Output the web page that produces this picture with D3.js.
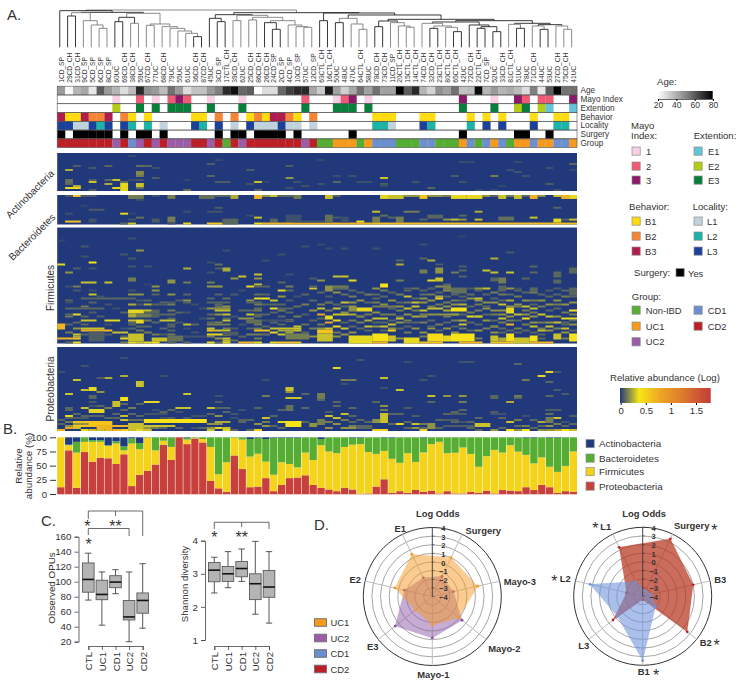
<!DOCTYPE html>
<html><head><meta charset="utf-8">
<script src="https://cdn.jsdelivr.net/npm/d3@7"></script>
<style>html,body{margin:0;padding:0;background:#fff}svg{display:block}text{font-family:"Liberation Sans",Arial,sans-serif;fill:#333}</style>
</head><body><svg id="c" width="748" height="688"></svg>
<script>
// ---------- DATA ----------
const samples=["1CD_SP","29CD_CH","31CD_CH","9CD_SP","5CD_SP","6CD_SP","8CD_SP","60UC","69CD_CH","38CD_CH","59UC","67CD_CH","77UC","68CD_CH","79UC","55UC","61UC","36CD_CH","87CD_CH","45UC","3CD_SP","17CTL_CH","39CD_CH","62UC","25CD_CH","86CD_CH","26CD_CH","24CD_SP","2CD_SP","4CD_SP","10CD_SP","57UC","12CD_SP","63CTL_CH","16CTL_CH","50UC","48UC","47UC","64CTL_CH","58UC","78CD_CH","73CD_CH","11CD_SP","20CTL_CH","15CTL_CH","14CTL_CH","74CD_CH","32CD_CH","23CTL_CH","80CTL_CH","65CTL_CH","42UC","72CD_CH","22CTL_CH","7CD_SP","52UC","33CD_CH","81CTL_CH","51UC","78UC","71CD_CH","44UC","53UC","27CD_CH","75CD_CH","41UC"];
const age=[50,22,42,46,27,62,50,42,30,40,72,52,50,40,58,50,30,38,38,50,55,72,77,60,62,20,30,30,60,68,72,72,46,36,75,48,34,46,58,48,58,48,48,80,62,72,42,33,52,48,58,38,40,78,42,50,42,45,40,30,55,27,62,80,58,58];
const groupCodes="dddddddbdcbdbdbbbddbdNdbdddddddbdNNaaaNacccNNNccNNNacNcacNaacaacca".split("");
const mayoCells=[[7,"1"],[10,"2"],[12,"1"],[14,"2"],[15,"3"],[16,"2"],[19,"1"],[23,"1"],[31,"2"],[35,"1"],[36,"2"],[37,"3"],[39,"1"],[51,"3"],[55,"1"],[58,"3"],[59,"2"],[61,"2"],[62,"2"],[65,"3"]];
const extentCells=[[7,"E2"],[10,"E3"],[12,"E3"],[14,"E3"],[15,"E3"],[16,"E3"],[19,"E3"],[23,"E3"],[31,"E3"],[35,"E3"],[36,"E3"],[37,"E3"],[39,"E3"],[51,"E3"],[55,"E3"],[58,"E2"],[59,"E3"],[61,"E2"],[62,"E1"],[65,"E1"]];
const behaviorCells=[[0,"B3"],[1,"B1"],[2,"B1"],[3,"B3"],[4,"B2"],[5,"B2"],[6,"B3"],[8,"B2"],[9,"B1"],[11,"B1"],[17,"B1"],[18,"B1"],[20,"B2"],[22,"B2"],[24,"B1"],[25,"B2"],[26,"B1"],[27,"B3"],[28,"B3"],[29,"B2"],[30,"B1"],[32,"B2"],[40,"B1"],[41,"B1"],[42,"B1"],[46,"B1"],[47,"B1"],[52,"B1"],[54,"B1"],[56,"B1"],[60,"B1"],[63,"B1"],[64,"B1"]];
const localityCells=[[0,"L3"],[1,"L3"],[2,"L1"],[3,"L1"],[4,"L3"],[5,"L2"],[6,"L3"],[8,"L3"],[9,"L2"],[11,"L2"],[13,"L1"],[17,"L3"],[18,"L2"],[20,"L3"],[22,"L1"],[24,"L3"],[25,"L1"],[26,"L1"],[27,"L1"],[28,"L3"],[29,"L1"],[30,"L1"],[32,"L1"],[40,"L2"],[41,"L2"],[42,"L1"],[46,"L3"],[47,"L2"],[52,"L2"],[54,"L3"],[56,"L3"],[60,"L3"],[63,"L2"],[64,"L2"]];
const surgeryCols=[0,2,3,4,5,6,8,10,11,13,20,22,23,25,26,27,28,30,37,51,58,59,62];
// dendrogram: [mergeHeight, left, right, greyFlag]; leaves are sample indices
const tree=[112,
 [110,0,[105,[104,[94,1,2],[80,3,[67,4,[57,5,6,1],1],1],1],
   [102,[90,[77,7,8],[72,9,10,1]],[70,[66,11,12,1],[62,13,[57,14,[49,15,[42,16,[32,17,18]  ,1],1],1],1],1],1]]],
 [104,[98,[87,19,[77,20,21]],[96,[80,22,23,1],[90,[82,24,25,1],[80,[74,26,[54,27,28]],[67,29,[62,30,[60,31,32,1],1],1],1],1],1]],
   [103,[80,33,34],[97,[87,[74,35,36],[70,37,[54,38,39,1],1],1],
     [84,[79,[62,40,41],[74,42,[64,43,[60,44,45,1],1],1]],
       [80,[76,[72,46,[64,[57,47,48],[60,49,[47,50,51],1],1],1],[67,52,[62,[57,53,54],[47,55,56]]]],
           [72,[69,57,[57,58,59],1],[68,[64,60,[54,61,62],1],[64,63,[54,64,65,1],1]]]]]]]],1];
// heat cells: [firstRow,lastRow,firstCol,lastCol,log abundance]
const actinoCells=[[8,8,1,1,.25],[6,6,2,2,.08],[7,7,4,4,.07],[6,6,6,6,.1],[6,6,10,10,.12],[1,1,9,9,.04],[6,6,11,11,.1],[7,7,12,12,.05],[5,5,19,19,.08],[3,3,20,20,.04],[8,8,24,24,.08],[6,6,29,29,.08],[9,10,10,10,.18],[11,11,10,10,.14],[11,11,19,19,.1],[12,12,12,12,.08],[13,14,1,1,.12],[15,15,1,1,.1],[13,13,4,4,.08],[14,14,4,4,.3],[13,13,6,6,.1],[15,15,6,6,.25],[13,13,7,7,.3],[14,14,8,8,.12],[15,17,8,8,.35],[18,18,8,8,.35],[13,13,9,9,.04],[13,13,10,10,.06],[15,16,10,10,.3],[16,16,2,2,.25],[17,17,1,2,.35],[18,18,4,4,.08],[17,17,7,7,.35],[17,17,10,10,.12],[18,18,16,16,.12],[13,13,16,16,.03],[14,14,20,21,.08],[15,15,24,24,.06],[14,14,25,25,.3],[14,14,26,26,.03],[12,12,29,29,.2],[14,14,30,30,.06],[18,18,25,25,.1],[17,17,29,29,.05],[3,3,33,33,.04],[11,11,35,35,.05],[14,14,35,35,.1],[11,11,37,37,.05],[12,12,41,41,.3],[15,15,41,41,.08],[16,16,41,41,.04],[15,15,33,33,.05],[16,16,31,31,.06],[14,14,38,39,.05],[14,14,45,45,.06],[17,17,47,47,.1],[11,11,50,50,.08],[14,14,51,51,.06],[4,4,51,52,.04],[11,11,55,55,.15],[8,8,57,57,.05],[9,9,58,58,.06],[11,11,59,59,.05],[4,4,58,58,.04],[7,7,62,62,.05],[15,15,62,62,.08],[5,5,65,65,.1],[8,8,65,65,.04],[18,18,63,63,.06],[18,18,53,53,.04],[18,18,55,55,.04],[16,16,56,56,.03]];
const bacterCells=[[0,0,1,1,.08],[0,0,2,2,.6],[0,0,3,4,.08],[0,1,9,10,.15],[0,0,12,12,.06],[0,1,14,14,.15],[0,1,18,19,.12],[0,0,20,21,.1],[0,1,22,22,.25],[0,1,25,25,.7],[0,0,26,26,.2],[0,0,27,27,.3],[0,0,28,29,.1],[0,1,30,30,.15],[2,2,10,10,.05],[5,5,3,3,.03],[7,7,4,5,.08],[6,6,20,20,.08],[8,8,19,20,.06],[8,8,16,16,.05],[9,9,8,8,.35],[9,9,9,9,.03],[11,11,10,10,.12],[12,12,9,9,.06],[11,13,14,14,.15],[12,13,12,12,.08],[12,13,4,4,.06],[9,9,1,1,.05],[13,13,1,2,.6],[14,14,8,8,.1],[14,14,9,9,.3],[14,14,14,14,.05],[14,14,16,16,.35],[14,14,19,20,.6],[12,14,21,22,.1],[10,10,24,24,.05],[11,11,25,25,.3],[14,14,25,25,.35],[12,13,27,27,.1],[10,13,29,30,.05],[14,14,26,39,.7],
[0,1,34,34,.3],[0,0,35,35,.1],[0,1,41,41,.35],[0,1,42,43,.3],[0,0,44,45,.2],[0,1,46,46,.6],[0,0,47,48,.2],[0,0,49,49,.15],[0,1,50,51,.35],[0,1,52,53,.35],[0,0,54,54,.2],[0,0,55,55,.1],[0,1,56,56,.3],[0,0,57,57,.15],[0,1,58,58,.3],[0,0,59,59,.1],[0,1,60,60,.7],[0,0,61,61,.2],[0,0,63,63,.3],[0,1,64,64,.7],[0,1,65,65,.35],[10,13,34,34,.12],[11,11,35,35,.08],[11,13,36,36,.05],[13,13,38,38,.4],[8,8,40,40,.3],[11,13,40,40,.15],[10,10,41,41,.12],[11,11,42,42,.1],[11,13,43,43,.15],[8,8,44,45,.15],[12,12,46,46,.1],[10,11,47,48,.1],[12,12,49,49,.2],[12,12,50,50,.3],[10,10,51,51,.1],[12,12,51,51,.2],[8,8,53,53,.25],[12,12,53,53,.3],[11,12,56,57,.12],[11,11,60,60,.3],[6,6,63,63,.1],[12,13,63,63,.35],[12,12,65,65,.3],[12,12,64,64,.1],[13,13,30,33,.06],[14,14,40,65,.65]];
const firmCoarse=[[18,18,0,0,.35],[17,17,4,4,.4],[14,14,3,3,.06],[13,13,8,8,.06],[15,15,9,9,.07],[11,11,10,10,.2],[5,5,9,9,.05],[9,9,3,3,.07],[6,6,0,0,.03],[20,20,2,2,.08],[19,19,11,11,.05],[19,19,9,9,.06],[20,20,16,16,.25],[17,17,19,19,.05],[18,18,20,20,.12],[20,20,20,20,.08],[20,21,21,21,.25],[11,11,21,21,.05],[22,22,19,19,.06],[22,22,1,1,.2],[20,20,4,4,.06],[25,26,9,9,.15],[27,27,3,4,.3],[27,27,6,6,.3],[26,27,14,14,.2],[27,27,16,16,.15],[27,27,19,19,.15],[25,25,22,22,.2],[24,24,23,23,.3],[23,23,25,25,.3],[25,25,25,25,.2],[29,29,24,24,.35],[29,29,26,26,.1],[28,28,25,25,.3],[27,27,28,28,.1],[23,23,29,29,.05],[29,29,12,12,.2],[29,29,2,2,.15],[28,28,11,11,.03],[29,29,20,20,.1],[16,16,26,26,.05],[13,13,28,28,.05],
[29,29,1,1,.05],[29,29,19,20,.2],[29,29,25,25,.1],[29,29,29,29,.15],[31,31,2,2,.07],[31,31,4,4,.05],[31,31,9,9,.06],[31,31,12,12,.2],[31,31,28,28,.35],[33,33,4,4,.3],[33,33,9,10,.2],[33,33,16,16,.1],[33,33,25,25,.12],[35,35,3,8,.1],[35,35,26,26,.4],[35,35,25,25,.35],[37,37,1,1,.05],[37,37,14,14,.08],[37,37,16,16,.1],[37,37,19,21,.1],[37,37,24,25,.1],[38,38,9,9,.25],[38,38,10,10,.07],[38,38,11,11,.25],[38,38,12,12,.1],[38,38,13,13,.08],[38,38,14,14,.15],[38,38,20,20,.1],[38,38,27,28,.1],[38,38,25,25,.15],[40,40,1,5,.1],[40,40,19,21,.2],[40,40,25,25,.12],[40,40,27,27,.35],[40,40,28,29,.1],[41,42,9,10,.35],[41,41,11,11,.3],[41,42,12,12,.1],[41,41,20,21,.3],[41,41,23,23,.1],[43,43,1,1,.1],[43,43,2,2,.35],[43,44,9,9,.25],[43,44,10,11,.15],[43,43,12,12,.1],[43,43,14,14,.1],[43,43,19,19,.1],[43,43,21,21,.3],[43,43,24,24,.3],[43,44,25,25,.1],[45,45,14,14,.1],[45,45,23,24,.2],[46,46,3,4,.3],[46,46,6,7,.35],[46,46,9,9,.3],[46,47,10,10,.35],[46,46,11,11,.15],[46,46,13,14,.3],[46,46,21,21,.3],[46,47,24,25,.12],[46,46,26,29,.06],[48,50,0,0,.7],[48,48,3,3,.1],[48,48,9,9,.1],[48,48,14,14,.1],[48,48,16,16,.3],[48,48,17,17,.1],[48,48,19,21,.15],[50,50,2,2,.2],[50,50,3,5,.3],[50,50,8,8,.05],[50,50,19,19,.3],[50,50,21,21,.15],[50,50,25,25,.15],[50,50,27,30,.3],[51,51,3,6,.7],[51,51,19,19,.6],[51,51,20,21,.3],[51,51,25,26,.6],[51,51,28,29,.25],[53,56,9,10,.3],[53,53,12,12,.15],[53,53,14,14,.15],[53,53,19,20,.35],[53,53,26,26,.1],[55,55,0,1,.7],[55,55,2,2,.6],[55,55,8,8,.35],[55,56,12,13,.3],[55,55,14,15,.1],[55,55,21,21,.3],[57,57,1,1,.1],[57,57,2,2,.35],[57,57,8,8,.15],[57,57,9,9,.35],[57,57,10,10,.3],[57,57,11,11,.35],[57,57,12,12,.4],[57,57,14,14,.1],[57,57,16,16,.1],[57,57,19,19,.35],[57,57,20,20,.1],[57,57,21,21,.35],[57,57,23,24,.7],[57,57,25,25,.35],[57,57,27,27,.35],[57,57,28,30,.6],[54,56,14,15,.12],[52,53,21,22,.08],[52,56,4,5,.08],[54,54,16,18,.06],
[9,9,31,31,.05],[8,8,33,33,.04],[10,10,34,34,.04],[10,10,36,36,.05],[10,10,40,40,.05],[8,8,46,46,.05],[4,4,51,51,.03],[12,12,57,57,.07],[15,15,55,55,.25],[15,15,46,46,.1],[16,16,47,47,.25],[16,16,43,43,.1],[18,18,43,43,.25],[19,19,60,60,.1],[19,19,51,51,.08],[18,18,48,48,.07],[21,21,54,54,.3],[20,22,48,48,.2],[22,22,55,55,.3],[21,22,46,46,.15],[22,22,57,57,.3],[24,24,35,35,.3],[24,24,36,36,.3],[26,26,33,33,.2],[25,25,32,32,.08],[26,26,37,37,.35],[28,29,41,41,.4],[26,26,43,43,.15],[26,26,47,47,.35],[25,26,48,48,.3],[22,22,50,50,.15],[21,21,51,51,.1],[24,24,51,51,.1],[25,26,55,55,.1],[25,27,56,56,.15],[22,24,63,63,.1],[20,22,65,65,.1],[26,27,63,63,.1],[25,25,59,59,.1],[22,22,60,60,.1],[29,30,35,36,.15],[28,30,49,49,.1],
[29,29,32,32,.1],[29,31,34,34,.2],[30,30,35,36,.1],[30,30,44,44,.08],[30,30,47,47,.08],[29,30,49,49,.15],[30,32,50,51,.12],[30,30,53,53,.2],[29,31,56,56,.1],[30,30,58,58,.06],[30,31,60,60,.1],[30,30,63,63,.08],[30,33,65,65,.1],[35,35,46,46,.2],[35,35,48,48,.5],[35,35,53,53,.3],[35,35,40,40,.1],[37,37,36,36,.3],[37,37,34,34,.1],[39,41,37,37,.2],[40,41,38,39,.35],[39,39,40,42,.15],[41,41,43,43,.15],[40,40,44,44,.3],[39,39,45,45,.3],[40,40,47,48,.3],[41,41,49,49,.25],[40,41,50,51,.4],[39,39,54,54,.1],[41,41,55,56,.2],[40,42,57,57,.35],[39,39,58,58,.15],[41,41,59,59,.15],[40,40,60,60,.3],[40,40,63,63,.1],[41,41,65,65,.4],[43,43,33,33,.8],[44,45,34,34,.35],[43,43,35,36,.3],[44,44,38,38,.15],[45,45,40,41,.3],[45,45,43,43,.3],[44,44,46,46,.2],[43,43,49,50,.2],[44,44,53,53,.3],[45,45,56,56,.3],[45,45,59,59,.45],[45,45,64,65,.35],[48,48,33,33,.15],[47,47,34,34,.8],[47,47,44,44,.1],[49,49,39,39,.3],[48,48,42,42,.3],[49,49,47,47,.1],[48,48,51,51,.3],[49,49,55,55,.15],[48,48,57,57,.7],[47,47,60,60,.2],[49,49,62,62,.3],[47,47,64,64,.1],[49,49,30,30,.3],[51,52,33,34,.6],[51,51,30,30,.3],[51,51,42,42,.5],[52,52,56,56,.1],[51,51,61,61,.3],[53,55,29,31,.15],[53,56,33,34,.3],[54,57,37,39,.35],[53,56,40,41,.4],[54,56,42,42,.3],[55,55,43,43,.2],[55,57,44,45,.35],[54,54,46,46,.15],[53,56,47,48,.45],[54,56,49,49,.35],[53,56,50,52,.4],[55,55,53,53,.15],[54,56,55,55,.3],[55,56,56,56,.25],[53,56,57,57,.4],[55,57,58,59,.3],[54,56,60,60,.4],[55,55,61,61,.1],[53,55,63,63,.3],[55,55,64,64,.15],[53,56,65,65,.4],[57,57,40,41,.7],[57,57,46,48,.6],[57,57,51,53,.7],[57,57,55,57,.6],[57,57,60,62,.7]];
// single column readings: [col, row, value, row, value, ...]
const firmSparse=[[1,36,.1,44,.15,48,.1,52,.15],[2,47,.1,53,.3,54,.25],[3,39,.15,44,.1,53,.1],[4,37,.1,42,.08,54,.1],[5,34,.06,44,.08],[6,38,.06,48,.06,53,.08],[7,40,.05,52,.3],[8,42,.1,52,.3,54,.1],[9,35,.1,47,.1,50,.1],[10,36,.07,49,.1,51,.15],[11,36,.1,42,.1,49,.1,52,.15],[12,33,.1,44,.1,47,.1],[13,37,.1,43,.1,50,.1,53,.08],[14,33,.2,41,.15,43,.1,49,.1,51,.1],[15,36,.08,42,.1,47,.06],[16,36,.2,42,.06,50,.05],[17,38,.05,52,.06],[18,40,.06,45,.05],[19,35,.1,45,.12,47,.1,54,.15],[20,33,.1,39,.12,43,.2,47,.15,55,.2],[21,35,.12,39,.2,45,.1,53,.3,56,.3],[22,33,.08,44,.06,50,.08,56,.12],[23,31,.05,48,.06,54,.1],[24,36,.2,41,.1,50,.1,53,.15],[25,41,.15,47,.1,48,.15,53,.15,55,.15],[26,33,.1,38,.1,43,.1,49,.1,53,.1],[27,36,.3,42,.1,47,.1,52,.35],[28,34,.2,41,.15,44,.1,48,.1,53,.3],
[29,31,.1,36,.08,42,.1,46,.3,52,.25],[30,34,.06,39,.12,44,.15,50,.1],[31,33,.1,38,.15,43,.08,48,.12,52,.1],[32,30,.3,36,.1,41,.2,46,.1,50,.15,54,.2],[33,32,.1,38,.15,40,.3,45,.1,50,.2],[34,34,.08,37,.2,41,.15,50,.3],[35,32,.2,38,.1,40,.3,46,.35,49,.5,52,.15,54,.2],[36,33,.12,39,.1,42,.2,47,.1,50,.3,53,.2],[37,31,.1,34,.15,37,.2,43,.25,46,.15,49,.1,52,.2],[38,32,.1,36,.2,44,.2,47,.15,50,.1],[39,33,.15,37,.1,43,.15,46,.25,51,.1],[40,30,.2,33,.1,37,.15,42,.2,47,.1,49,.2],[41,31,.15,34,.1,38,.2,43,.15,47,.1,49,.3,51,.1],[42,32,.1,36,.2,40,.1,43,.15,46,.1,50,.2],[43,33,.15,37,.1,39,.2,44,.1,47,.2,50,.1],[44,31,.1,34,.3,37,.15,43,.2,46,.15,49,.1,52,.15],[45,30,.12,35,.1,37,.3,41,.15,44,.25,47,.1,50,.2],[46,31,.1,33,.12,37,.2,41,.3,43,.15,47,.15,52,.2],[47,30,.08,33,.15,36,.2,39,.15,43,.2,46,.1,50,.2],[48,29,.2,32,.1,34,.25,38,.15,43,.2,48,.15,51,.1],[49,31,.2,34,.1,37,.15,39,.2,44,.15,47,.1,50,.2],[50,33,.1,36,.15,38,.2,43,.2,46,.15,49,.1,52,.2],[51,34,.1,36,.1,38,.25,43,.1,46,.25,50,.15],[52,30,.08,33,.12,35,.2,39,.1,42,.15,44,.35,47,.1,51,.1],[53,31,.1,36,.2,38,.15,41,.15,44,.25,48,.1,51,.2],[54,30,.3,33,.1,37,.2,40,.2,43,.1,46,.2,50,.15],[55,32,.15,35,.1,37,.2,43,.15,46,.1,49,.25,52,.2],[56,30,.1,33,.15,36,.1,38,.3,43,.2,47,.15,50,.1],[57,30,.2,33,.1,36,.25,39,.2,44,.2,46,.15,51,.1],[58,31,.1,34,.15,38,.2,43,.3,46,.1,50,.15,52,.1],[59,32,.1,36,.2,39,.3,43,.2,48,.15,51,.1],[60,30,.05,32,.15,36,.15,38,.1,42,.15,44,.2,49,.3,52,.1],[61,33,.1,36,.2,39,.15,43,.3,47,.15,50,.15,53,.1],[62,31,.08,34,.1,38,.2,41,.1,44,.3,47,.2,51,.2],[63,33,.1,36,.2,38,.15,44,.2,47,.3,50,.15],[64,31,.1,34,.15,38,.2,42,.15,48,.1,50,.3,52,.2],[65,34,.1,37,.2,43,.15,46,.1,48,.2,51,.1]];
const proteoCoarse=[[12,12,0,0,.05],[16,16,2,2,.3],[9,9,3,3,.06],[20,21,4,4,.35],[21,21,3,3,.3],[22,22,5,5,.2],[15,15,6,6,.25],[15,15,5,5,.08],[14,14,8,8,.25],[5,5,8,8,.05],[17,19,10,10,.3],[23,23,1,1,.3],[24,25,4,4,.1],[30,30,3,3,.3],[25,26,8,8,.4],[27,29,7,7,.3],[34,34,1,1,.35],[30,31,1,1,.1],[31,32,4,5,.35],[29,29,5,5,.1],[30,30,6,6,.15],[31,31,8,8,.1],[34,34,8,8,.3],[27,27,11,12,.35],[30,30,15,16,.3],[23,23,16,16,.3],[14,14,13,13,.05],[20,22,29,29,.2],[25,25,29,29,.3],[29,31,29,29,.12],[24,24,26,26,.15],[35,35,26,26,.3],[30,30,21,21,.1],[30,30,19,19,.3],[24,24,20,20,.05],[16,16,26,26,.05],[25,25,30,30,.3],
[36,37,11,18,.4],[37,39,2,6,.6],[36,36,0,0,.1],[37,37,20,21,.25],[37,37,23,23,.1],[37,37,28,30,.35],[40,40,1,1,.8],[39,40,5,6,.7],[39,39,7,8,.7],[38,40,9,10,.3],[39,39,11,14,.3],[38,38,19,20,.2],[38,39,29,29,.35],[38,38,2,3,.2],[35,35,2,3,.08],[33,33,11,13,.06],[36,36,9,10,.12],
[10,10,35,35,.35],[6,6,38,38,.06],[15,15,41,41,.3],[14,14,61,61,.35],[12,12,62,62,.35],[12,12,63,63,.07],[8,8,58,58,.1],[7,7,51,52,.06],[7,7,44,44,.05],[14,14,47,47,.06],[16,16,46,46,.06],[16,16,36,37,.15],[18,18,36,36,.05],[20,20,41,41,.05],[21,21,43,43,.3],[20,21,29,29,.3],[16,16,59,59,.15],[17,17,62,62,.1],[21,21,63,63,.07],[24,24,47,47,.3],[24,24,49,49,.2],[24,24,51,51,.2],[24,25,55,55,.1],[24,24,58,58,.15],[25,25,58,58,.1],[23,23,31,31,.1],[23,25,33,33,.15],[26,26,33,33,.1],[25,25,29,30,.3],[27,27,35,35,.1],[29,29,41,41,.2],[27,27,40,40,.1],[27,27,51,51,.15],[27,27,47,47,.1],[27,27,57,57,.25],[24,24,62,62,.1],[23,23,64,64,.07],[31,31,62,63,.08],[31,31,41,41,.15],[33,33,36,36,.3],[35,35,35,35,.3],[34,34,37,37,.1],[33,37,41,41,.3],[36,37,40,40,.2],[38,38,43,43,.35],[38,38,45,45,.3],[38,40,47,47,.2],[38,39,53,54,.3],[37,37,57,57,.3],[37,37,61,61,.25],[35,37,62,62,.15],[37,39,29,30,.4],[38,39,32,32,.2],[36,38,33,33,.15],[34,34,34,34,.3],[41,41,40,41,.5],[40,40,36,37,.2],[41,41,57,57,.4],[41,41,59,59,.4],[41,41,64,64,.4],[41,41,46,46,.35],[38,38,63,63,.15],[33,33,50,51,.08],[33,33,55,56,.06],[36,36,49,50,.08],[39,40,38,39,.1],[39,39,49,52,.08]];
const proteoSparse=[[0,38,.1,41,.7],[1,35,.1,37,.15,39,.2],[2,33,.1,35,.1,40,.3],[3,34,.1,41,.35],[4,27,.07,29,.05,34,.1,41,.3],[5,34,.1,41,.3],[6,35,.1,41,.7],[7,33,.1,35,.1,41,.7],[8,28,.1,36,.3,41,.5],[9,30,.15,33,.1,41,.3],[10,28,.1,34,.1,41,.35],[11,33,.06,40,.2,41,.3],[12,31,.05,40,.15],[13,32,.1,35,.06,40,.1],[14,31,.1,35,.08],[15,32,.06,40,.1],[16,35,.07],[17,34,.05,40,.06],[18,34,.06,40,.1],[19,33,.1,40,.2,41,.3],[20,27,.08,30,.1,34,.2,40,.35],[21,32,.1,40,.3,41,.35],[22,33,.06,35,.05,41,.1],[23,31,.05,36,.1],[24,36,.1,41,.1],[25,30,.1,38,.2,41,.5],[26,37,.15,39,.2],[27,34,.1,39,.1],[28,31,.1,40,.1],
[31,30,.1,37,.1],[34,32,.08,37,.15,40,.2],[35,29,.1,38,.2],[36,36,.15],[37,30,.1,37,.1,39,.15],[38,36,.1],[39,37,.1],[42,33,.1,38,.1],[43,33,.1],[44,30,.08,37,.1,40,.1],[45,34,.08,40,.2],[46,38,.15,40,.1],[48,36,.1,40,.1],[49,33,.1],[50,32,.1,37,.1],[51,31,.1,37,.06],[52,37,.1,40,.1],[53,35,.1,41,.1],[55,32,.08,41,.2],[56,35,.1,40,.1],[58,36,.15,39,.1,41,.2],[59,34,.05,39,.15],[60,36,.1,40,.1],[61,39,.1,41,.2],[62,31,.1,33,.12,39,.2,41,.2],[63,35,.3,41,.25],[64,37,.06,39,.1],[65,34,.08,38,.1,41,.3]];
const proteobacteria=[12,77,11,74,57,64,63,53,70,14,34,41,52,87,60,100,88,98,91,23,10,4,68,44,12,13,28,5,16,28,29,33,16,11,8,5,11,8,.5,1,13,26,2,5,2,7,4,6,1,5,1,1,4,2,6,1,7,6,5,12,7,16,12,2,5,4];
const firmicutes=[88,9,62,18,35,28,22,36,7,75,45,58,25,7,23,0,8,1,6,60,25,52,31,52,54,58,29,29,40,25,18,40,44,75,67,67,72,79,87.5,73,57,50,60,50,70,49,70,82,91,67,71,81,66,46,60,76,66,80,69,57,47,48,36,37,44,71];
const bacteroidetes=[0,1,19,8,3,3,1,4,7,9,11,1,23,6,17,0,3,1,3,17,65,44,1,4,31,28,40,65,43,46,52,27,40,11,25,28,17,12,11,26,29,23,37,45,28,43,26,12,8,28,27,18,29,52,33,22,27,14,25,30,45,35,51,60,50,25];
const actinobacteria=[0,13,8,0,5,5,14,7,16,2,10,0,0,0,0,0,1,0,0,0,0,0,0,0,3,1,3,1,1,1,1,0,0,3,0,0,0,1,1,0,0,1,1,0,0,0,1,0,0,0,0,0,0,0,0,0,0,0,0,1,1,0,1,1,0,0];
const boxGroups=["CTL","UC1","CD1","UC2","CD2"];
const otuLow=[75.5,42,84,20,38],otuQ1=[86,76,92,49,58],otuMed=[103,83,99.5,53,75],otuQ3=[125,102,108,75,85],otuHigh=[138,113,116,113,124];
const shanLow=[2.42,2.58,2.77,1.78,1.51],shanQ1=[2.76,2.77,2.91,2.22,2.29],shanMed=[3.11,3.0,3.16,2.7,2.6],shanQ3=[3.34,3.22,3.37,3.0,3.1],shanHigh=[3.5,3.67,3.75,3.98,3.67];
const radarTicks=[4,3,2,1,0,-1,-2,-3,-4];
const radarAxesA=["Surgery","Mayo-3","Mayo-2","Mayo-1","E3","E2","E1"];
const uc1Odds=[1.0,1.4,-.1,-.7,-1.5,.45,1.45];
const uc2Odds=[-1.4,-1.5,.4,.8,1.5,-.7,-1.6];
const radarAxesB=["Surgery","B3","B2","B1","L3","L2","L1"];
const cd1Odds=[-3.3,-3,-2.1,3.45,-.25,2.25,-2.1];
const cd2Odds=[3.4,2,2.6,-3.6,.4,-2.1,2.3];

// ---------- STYLE ----------
const FONT=9.6;
const cGroup={N:"#55ad33",a:"#f5991f",b:"#9b5ca8",c:"#6c8fcf",d:"#bc2026"};
const cMayo={"1":"#f7cfe4","2":"#ef5b74","3":"#8b1a6b"};
const cExt={E1:"#62c4d8",E2:"#b5cc14",E3:"#0a7f3b"};
const cBeh={B1:"#fedc10",B2:"#f58534",B3:"#b01c4d"};
const cLoc={L1:"#c0d2dc",L2:"#1cb3a8",L3:"#1b419b"};
const cPhy={Actinobacteria:"#1f3a7d",Bacteroidetes:"#55ad33",Firmicutes:"#f4d31a",Proteobacteria:"#c8403c"};

const svg=d3.select("#c");
const txt=(x,y,s,o={})=>{const t=svg.append("text").attr("x",x).attr("y",y).attr("font-size",o.size||FONT).attr("text-anchor",o.anchor||"start").attr("dominant-baseline","central").text(s);
 if(o.bold)t.attr("font-weight","bold"); if(o.rot!=null)t.attr("transform",`rotate(${o.rot} ${x} ${y})`); if(o.fill)t.style("fill",o.fill); return t;};

// ---------- PANEL A ----------
txt(7,14,"A.",{size:15});txt(3,428,"B.",{size:15});txt(41,520,"C.",{size:15});txt(314,524,"D.",{size:15});

const x=d3.scaleBand().domain(d3.range(samples.length)).range([57.2,577]);
const leafBase=47.3;
const hy=d3.scaleLinear().domain([0,112]).range([leafBase,10]);
const toNode=n=>Array.isArray(n)?{h:n[0],grey:n[3],children:[toNode(n[1]),toNode(n[2])]}:{leaf:n,h:0};
const root=d3.hierarchy(toNode(tree));
root.eachAfter(d=>{d.px=d.children?d3.mean(d.children,c=>c.px):x(d.data.leaf)+x.bandwidth()/2-1.4;});
const gTree=svg.append("g").attr("fill","none").attr("stroke-width",.9);
root.descendants().filter(d=>d.children).forEach(d=>{
  const [a,b]=d.children;
  gTree.append("path").attr("stroke",d.data.grey?"#7d7d7d":"#222")
   .attr("d",`M${a.px},${hy(a.data.h)}V${hy(d.data.h)}H${b.px}V${hy(b.data.h)}`);
});
svg.append("g").selectAll("text").data(samples).join("text")
 .attr("transform",(d,i)=>`translate(${x(i)+x.bandwidth()/2+2.7},82.8) rotate(-90) scale(.86,1)`)
 .attr("font-size",7.7).text(d=>d);

const tracks=["Age","Mayo Index","Extention","Behavior","Locality","Surgery","Group"];
const ty=d3.scaleBand().domain(tracks).range([86.2,147.6]);
const tg=svg.append("g");
const ageScale=d3.scaleLinear().domain([20,50,80]).range(["#ffffff","#9a9a9a","#000000"]);
tg.selectAll(".age").data(age).join("rect").attr("x",(d,i)=>x(i)).attr("y",ty("Age")).attr("width",x.bandwidth()+.2).attr("height",ty.bandwidth()).attr("fill",d=>ageScale(d));
const addTrack=(name,cells,col)=>tg.append("g").selectAll("rect").data(cells).join("rect").attr("x",d=>x(d[0])).attr("y",ty(name)).attr("width",x.bandwidth()+.2).attr("height",ty.bandwidth()).attr("fill",d=>col[d[1]]);
addTrack("Mayo Index",mayoCells,cMayo);addTrack("Extention",extentCells,cExt);addTrack("Behavior",behaviorCells,cBeh);addTrack("Locality",localityCells,cLoc);
addTrack("Surgery",surgeryCols.map(c=>[c,"y"]),{y:"#000"});
addTrack("Group",groupCodes.map((c,i)=>[i,c]),cGroup);
tracks.forEach(t=>{tg.append("rect").attr("x",x.range()[0]).attr("y",ty(t)).attr("width",x.range()[1]-x.range()[0]).attr("height",ty.bandwidth()).attr("fill","none").attr("stroke","#555").attr("stroke-width",.6);
 txt(580.5,ty(t)+ty.bandwidth()/2+.3,t,{size:8.2});});

// heat panels
const heatColor=d3.scaleLinear().domain([0,.38,.8,1.2,1.8]).range(["#21397a","#f7e616","#eea524","#de8029","#c23b3b"]).clamp(true);
const expand=list=>list.flatMap(([c,...rv])=>d3.range(0,rv.length,2).map(i=>[rv[i],rv[i],c,c,rv[i+1]]));
const panels=[{name:"Actinobacteria",cells:actinoCells,rows:19,top:153,bottom:191},{name:"Bacteroidetes",cells:bacterCells,rows:15,top:195,bottom:224.5},{name:"Firmicutes",cells:expand(firmSparse).concat(firmCoarse),rows:58,top:227.5,bottom:343.5},{name:"Proteobacteria",cells:expand(proteoSparse).concat(proteoCoarse),rows:42,top:347,bottom:431}];
panels.forEach(p=>{
 const ry=d3.scaleBand().domain(d3.range(p.rows)).range([p.top,p.bottom]);
 const g=svg.append("g");
 g.append("rect").attr("x",x.range()[0]).attr("y",p.top).attr("width",x.range()[1]-x.range()[0]).attr("height",p.bottom-p.top).attr("fill",heatColor(0));
 g.selectAll("rect.c").data(p.cells).join("rect").attr("class","c").attr("x",d=>x(d[2])).attr("y",d=>ry(d[0])).attr("width",d=>x(d[3])+x.bandwidth()-x(d[2])).attr("height",d=>ry(d[1])+ry.bandwidth()-ry(d[0])).attr("fill",d=>heatColor(d[4]));
});
txt(30,194,"Actinobacteria",{size:10,anchor:"middle",rot:-45});
txt(32,237,"Bacteroidetes",{size:10,anchor:"middle",rot:-45});
txt(50,288,"Firmicutes",{size:10,anchor:"middle",rot:-90});
txt(50,389,"Proteobacteria",{size:10,anchor:"middle",rot:-90});

// legends
const defs=svg.append("defs");
const mkGrad=(id,stops)=>{const g=defs.append("linearGradient").attr("id",id);stops.forEach(([o,c])=>g.append("stop").attr("offset",o).attr("stop-color",c));};
mkGrad("ageG",[[0,"#ffffff"],[.5,"#8a8a8a"],[1,"#000000"]]);
mkGrad("abG",heatColor.domain().map((v,i)=>[v/1.8,heatColor.range()[i]]));
txt(657,81,"Age:",{size:9.6});
svg.append("rect").attr("x",657.7).attr("y",91).attr("width",55).attr("height",8).attr("fill","url(#ageG)");
const ageAxis=d3.scaleLinear().domain([20,80]).range([658,713]);
const ga=svg.append("g").attr("transform","translate(0,99)").call(d3.axisBottom(ageAxis).tickValues([20,40,60,80]).tickSize(2));
ga.select(".domain").attr("stroke-width",.6);ga.selectAll("text").attr("font-size",8.5).attr("y",3).attr("font-family",null);
const sw=(x0,yc,c)=>svg.append("rect").attr("x",x0).attr("y",yc-4).attr("width",8.2).attr("height",8.2).attr("fill",c).attr("stroke","#8d8d8d").attr("stroke-width",.7);
const legendCol=(x0,tx,ys,labels,cols)=>labels.forEach((l,i)=>{sw(x0,ys[i],cols[i]);txt(tx,ys[i],l,{size:9.4});});
txt(631,125,"Mayo");txt(631,135,"Index:");txt(693.7,135,"Extention:");
legendCol(632,646,[151,166,180],["1","2","3"],[cMayo[1],cMayo[2],cMayo[3]]);
legendCol(694,708,[151,166,180],["E1","E2","E3"],[cExt.E1,cExt.E2,cExt.E3]);
txt(629,206,"Behavior:");txt(692.7,206,"Locality:");
legendCol(632,645,[221,236,251],["B1","B2","B3"],[cBeh.B1,cBeh.B2,cBeh.B3]);
legendCol(694,707,[221,236,251],["L1","L2","L3"],[cLoc.L1,cLoc.L2,cLoc.L3]);
txt(634,272,"Surgery:");sw(676,272.5,"#000");txt(688,273,"Yes",{size:9.4});
txt(631.7,296,"Group:");
legendCol(632,645.7,[310,326,341.7],["Non-IBD","UC1","UC2"],[cGroup.N,cGroup.a,cGroup.b]);
legendCol(694,707.7,[310,326],["CD1","CD2"],[cGroup.c,cGroup.d]);
txt(610,377,"Relative abundance (Log)",{size:9.6});
svg.append("rect").attr("x",620).attr("y",388).attr("width",90.7).attr("height",15).attr("fill","url(#abG)");
const abAxis=d3.scaleLinear().domain([0,1.5]).range([620.7,696]);
const gb=svg.append("g").attr("transform","translate(0,403)").call(d3.axisBottom(abAxis).tickValues([0,.5,1,1.5]).tickSize(2).tickFormat(d=>d));
gb.select(".domain").attr("stroke","none");gb.selectAll("text").attr("font-size",9.6).attr("y",4).attr("font-family",null);

// ---------- PANEL B ----------
const phyla=["Proteobacteria","Firmicutes","Bacteroidetes","Actinobacteria"];
const barRows=samples.map((s,i)=>({Proteobacteria:proteobacteria[i],Firmicutes:firmicutes[i],Bacteroidetes:bacteroidetes[i],Actinobacteria:actinobacteria[i]}));
const stacked=d3.stack().keys(phyla).offset(d3.stackOffsetExpand)(barRows);
const bx=d3.scaleBand().domain(d3.range(samples.length)).range([57.2,577]).paddingInner(.07);
const by=d3.scaleLinear().domain([0,1]).range([494,437.3]);
const gB=svg.append("g");
stacked.forEach(s=>gB.append("g").attr("fill",cPhy[s.key]).selectAll("rect").data(s).join("rect").attr("x",(d,i)=>bx(i)).attr("y",d=>by(d[1])).attr("width",bx.bandwidth()).attr("height",d=>by(d[0])-by(d[1])));
gB.append("rect").attr("x",57.2).attr("y",494).attr("width",520).attr("height",1).attr("fill","#ecc8c6");
const yB=svg.append("g").attr("transform","translate(56,0)").call(d3.axisLeft(by).tickValues([0,.25,.5,.75,1]).tickSize(6).tickFormat(d=>d*100));
yB.select(".domain").remove();yB.selectAll("text").attr("font-size",9.6).attr("font-family",null);yB.selectAll("line").attr("stroke-width",.8);
txt(18.5,466,"Relative",{size:9.8,anchor:"middle",rot:-90});
txt(28,466,"abundance (%)",{size:9.8,anchor:"middle",rot:-90});
const legY=[443.5,458,471.5,486];
["Actinobacteria","Bacteroidetes","Firmicutes","Proteobacteria"].forEach((k,i)=>{sw(586,legY[i],cPhy[k]);txt(599,legY[i],k,{size:9.8});});

// ---------- PANEL C ----------
function boxPanel(cfg){
 const y=d3.scaleLinear().domain(cfg.domain).range(cfg.yRange);
 const cx=d3.scalePoint().domain(boxGroups).range(cfg.xRange);
 const g=svg.append("g");
 const ax=g.append("g").attr("transform",`translate(${cfg.axisX},0)`).call(d3.axisLeft(y).tickValues(cfg.ticks).tickSize(4).tickFormat(d3.format("d")));
 ax.selectAll("text").attr("font-size",9.8).attr("font-family",null);ax.selectAll(".domain,line").attr("stroke-width",.8).attr("stroke","#444");
 const bt=g.append("g").attr("transform","translate(0,646)").call(d3.axisBottom(cx).tickSize(4));
 bt.selectAll(".domain,line").attr("stroke-width",.8).attr("stroke","#444");
 bt.selectAll("text").attr("font-size",9.6).attr("font-family",null).attr("text-anchor","end").attr("dominant-baseline","central").attr("transform","rotate(-90)").attr("x",-6).attr("y",0).attr("dy",0);
 boxGroups.forEach((k,i)=>{
  const X=cx(k),w=5.8;
  g.append("line").attr("x1",X).attr("x2",X).attr("y1",y(cfg.low[i])).attr("y2",y(cfg.high[i])).attr("stroke","#444").attr("stroke-width",.9);
  [cfg.low[i],cfg.high[i]].forEach(v=>g.append("line").attr("x1",X-3.2).attr("x2",X+3.2).attr("y1",y(v)).attr("y2",y(v)).attr("stroke","#444").attr("stroke-width",.9));
  g.append("rect").attr("x",X-w).attr("width",2*w).attr("y",y(cfg.q3[i])).attr("height",y(cfg.q1[i])-y(cfg.q3[i])).attr("fill","#b4b4b4").attr("stroke","#5a5a5a").attr("stroke-width",.9);
  g.append("line").attr("x1",X-w).attr("x2",X+w).attr("y1",y(cfg.med[i])).attr("y2",y(cfg.med[i])).attr("stroke","#111").attr("stroke-width",1.6);
 });
 return cx;
}
const cA=boxPanel({domain:[20,160],yRange:[641.7,536.7],xRange:[88.3,142.7],axisX:78.5,ticks:d3.range(20,161,20),low:otuLow,q1:otuQ1,med:otuMed,q3:otuQ3,high:otuHigh});
const cB=boxPanel({domain:[1,4],yRange:[640,540.7],xRange:[214.3,269],axisX:205,ticks:[1,2,3,4],low:shanLow,q1:shanQ1,med:shanMed,q3:shanQ3,high:shanHigh});
txt(51,588,"Observed OPUs",{size:9.8,anchor:"middle",rot:-90});
txt(184.5,584,"Shannon diversity",{size:9.6,anchor:"middle",rot:-90});
const br=svg.append("g").attr("fill","none").attr("stroke","#444").attr("stroke-width",.8);
br.append("path").attr("d",`M${cA("CTL")},519V511H${cA("CD2")}V536`);
br.append("path").attr("d",`M${cA("CD1")},511V516`);
br.append("path").attr("d",`M${cA("CTL")},535V528.5H${cA("UC2")}V536`);
br.append("path").attr("d",`M${cB("CTL")},529V522.3H${cB("CD2")}V529`);
br.append("path").attr("d",`M${cB("CD1")},522.3V527`);
// the asterisk glyph sits high in its box, so the centre is pushed down to land on the given point
const star=(X,Y,s)=>svg.append("text").attr("x",X).attr("y",Y+3).attr("text-anchor","middle").attr("dominant-baseline","central").attr("font-size",16).text(s);
star(87.3,523,"*");star(115.5,523,"**");star(88.7,541,"*");
star(214.3,534,"*");star(241.7,534,"**");

// ---------- PANEL D ----------
function radar(cx,cy,axes,series,labelPos){
 const R=69;
 const r=d3.scaleLinear().domain([-4,4]).range([0,R]);
 const g=svg.append("g").attr("transform",`translate(${cx},${cy})`);
 const ang=d3.scalePoint().domain(axes).range([Math.PI/7,Math.PI*2-Math.PI/7]);
 radarTicks.forEach(t=>{ if(t===-4)return; g.append("circle").attr("r",r(t)).attr("fill","none").attr("stroke",t===4?"#333":"#5c5c5c").attr("stroke-width",t===4?1:.55);});
 axes.forEach(a=>{const th=ang(a);g.append("line").attr("x2",R*Math.sin(th)).attr("y2",-R*Math.cos(th)).attr("stroke","#bdbdbd").attr("stroke-width",1);});
 series.forEach(s=>{
  const line=d3.lineRadial().radius(d=>r(d)).angle((d,i)=>ang(axes[i])).curve(d3.curveLinearClosed);
  g.append("path").attr("d",line(s.values)).attr("fill",s.color).attr("fill-opacity",s.op).attr("stroke",s.color).attr("stroke-opacity",.25).attr("stroke-width",.6);
  s.values.forEach((v,i)=>{const th=ang(axes[i]);g.append("circle").attr("cx",r(v)*Math.sin(th)).attr("cy",-r(v)*Math.cos(th)).attr("r",1.4).attr("fill",s.dot);});
 });
 g.append("line").attr("y1",0).attr("y2",-R).attr("stroke","#444").attr("stroke-width",1);
 radarTicks.forEach(t=>{g.append("line").attr("x1",0).attr("x2",2).attr("y1",-r(t)).attr("y2",-r(t)).attr("stroke","#444").attr("stroke-width",.7);
  g.append("text").attr("x",11).attr("y",-r(t)+1).attr("text-anchor","middle").attr("dominant-baseline","central").attr("font-size",7.5).attr("font-weight","bold").text(d3.format("")(t).replace("-","\u2212"));});
 labelPos.forEach(l=>txt(cx+l[1],cy+l[2],l[0],{size:9.4,bold:true,anchor:"middle"}));
}
radar(432.3,596.5,radarAxesA,[
 {values:uc2Odds,color:"#8e5aa8",dot:"#8e4aa0",op:.5},
 {values:uc1Odds,color:"#f59a23",dot:"#f59a23",op:.5}],
 [["Log Odds",5.5,-83.5],["Surgery",51,-66.5],["Mayo-3",87.5,-15],["Mayo-2",72,52],["Mayo-1",1,77.5],["E3",-59.5,50],["E2",-77,-17.5],["E1",-32,-68]]);
radar(642.7,596.3,radarAxesB,[
 {values:cd2Odds,color:"#b5341f",dot:"#c0202c",op:.72},
 {values:cd1Odds,color:"#6d93dc",dot:"#6d93dc",op:.58}],
 [["Log Odds",1.5,-82.5],["Surgery",49,-70.5],["B3",77.5,-17],["B2",63,46],["B1",1,75.5],["L3",-59,49.5],["L2",-77.5,-18],["L1",-37,-70]]);
[[714.3,527],[716.7,642.3],[656,672.7],[554.3,578.3],[595.3,525.7]].forEach(p=>star(p[0],p[1],"*"));
[["#f5991f","UC1",622.5],["#9b5ca8","UC2",638],["#6c8fcf","CD1",653.5],["#bc2026","CD2",669]].forEach(([c,l,y])=>{
 svg.append("rect").attr("x",314.5).attr("y",y-3.8).attr("width",12).attr("height",7.6).attr("fill",c).attr("stroke","#6e6e6e").attr("stroke-width",.9);
 txt(330.5,y,l,{size:9.4});});
</script></body></html>
